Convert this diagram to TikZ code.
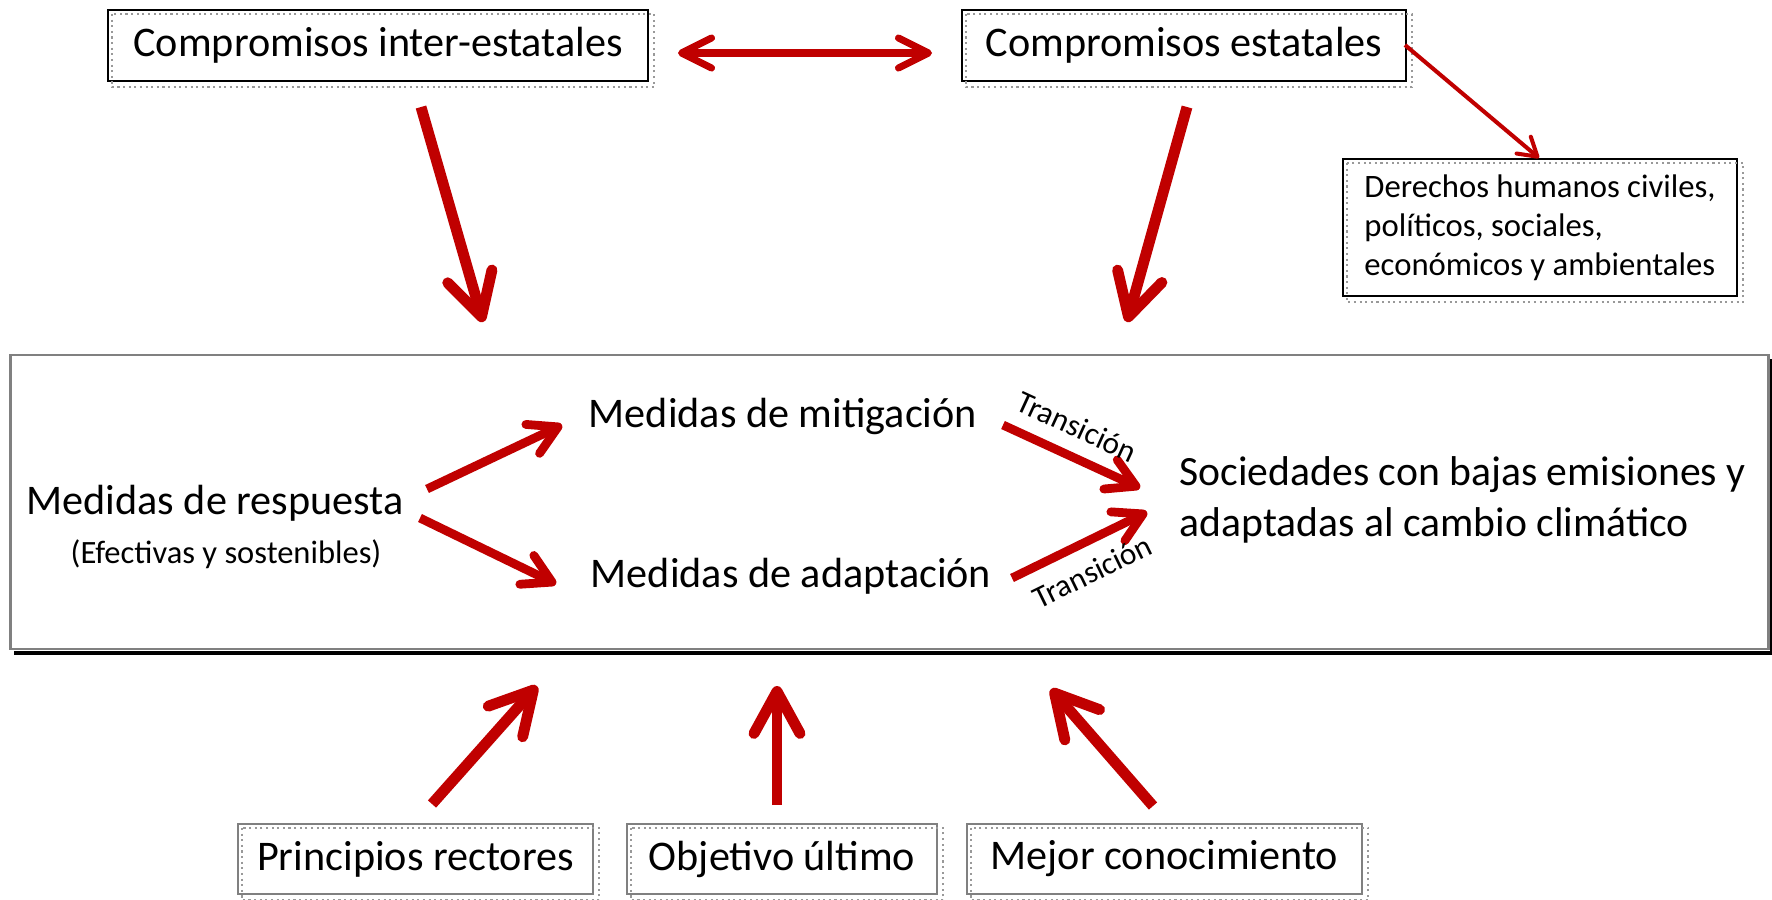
\documentclass[tikz,border=0pt]{standalone}
\usepackage{fontspec}
\setmainfont{Carlito}
\usetikzlibrary{arrows.meta}
\definecolor{arrowred}{RGB}{192,0,0}
\tikzset{
  box/.style = {draw, line width=0.6pt, inner sep=0, font=\fontsize{12}{14.4}\selectfont},
  graybox/.style = {box, draw=gray},
  dotframe/.style = {draw=gray!80, densely dotted, line width=0.6pt},
  bigarrow/.style = {arrowred, line width=3.1pt, -{Straight Barb[length=4.2mm, width=4.6mm, round]}},
  midarrow/.style = {arrowred, line width=2.5pt, -{Straight Barb[length=2.8mm, width=3.2mm, round]}},
  thinarrow/.style = {arrowred, line width=1.15pt, -{Straight Barb[length=1.8mm, width=2.2mm, round]}},
  label/.style = {font=\fontsize{12}{14.4}\selectfont, inner sep=0},
  translabel/.style = {text=black, sloped, inner sep=1pt, font=\fontsize{8.9}{11}\selectfont}
}

\begin{document}
\begin{tikzpicture}[x=0.01cm, y=-0.01cm]
    \useasboundingbox (0, 0) rectangle (1772, 899);

    % boxes
    \node [box, minimum width=5.4cm, minimum height=0.71cm] (inter) at (378, 45.5) {Compromisos inter-estatales};
    \node [box, minimum width=4.44cm, minimum height=0.71cm] (estatal) at (1184, 45.5) {Compromisos estatales};
    \node [box, minimum width=3.94cm, minimum height=1.37cm, align=left,
      font=\fontsize{9.3}{11.1}\selectfont] (derechos) at (1540, 227.5)
      {Derechos humanos civiles,\\políticos, sociales,\\económicos y ambientales};
    \node [graybox, minimum width=3.55cm, minimum height=0.7cm] (principios) at (415.5, 859) {Principios rectores};
    \node [graybox, minimum width=3.1cm, minimum height=0.7cm] (objetivo) at (782, 859) {Objetivo último};
    \node [graybox, minimum width=3.95cm, minimum height=0.7cm] (mejor) at (1164.5, 859) {Mejor conocimiento};

    \foreach \b in {inter, estatal, derechos, principios, objetivo, mejor}
      \draw [dotframe] ([shift={(5, 5)}]\b.north west) rectangle ([shift={(5, 5)}]\b.south east);

    % main frame with shadow
    \node [draw=gray, line width=0.6pt, minimum width=17.57cm, minimum height=2.94cm] (main) at (889.5, 502) {};
    \draw [line width=1.2pt] ([shift={(2.5, 5)}]main.north east) -- ([shift={(2.5, 2.5)}]main.south east)
      -- ([shift={(5, 2.5)}]main.south west);

    \node [label] (respuesta) at (215, 503) {Medidas de respuesta};
    \node [label, font=\fontsize{9.25}{11}\selectfont] (efectivas) at (226, 554) {(Efectivas y sostenibles)};
    \node [label] (mitigacion) at (783, 416) {Medidas de mitigación};
    \node [label] (adaptacion) at (791, 576) {Medidas de adaptación};
    \node [label, align=left, anchor=west, font=\fontsize{11.85}{14.4}\selectfont] (sociedades) at (1179, 500)
      {Sociedades con bajas emisiones y\\adaptadas al cambio climático};

    % arrow ends
    \coordinate (a1) at (678, 53);   \coordinate (a2) at (932, 53);
    \coordinate (b1) at (421, 107);  \coordinate (b2) at (483, 322);
    \coordinate (c1) at (1187, 107); \coordinate (c2) at (1127, 322);
    \coordinate (d1) at (1405, 45);  \coordinate (d2) at (1539, 158);
    \coordinate (e1) at (427, 489);  \coordinate (e2) at (562, 425);
    \coordinate (f1) at (420, 518);  \coordinate (f2) at (556, 584);
    \coordinate (g1) at (1003, 425); \coordinate (g2) at (1140, 488);
    \coordinate (h1) at (1012, 578); \coordinate (h2) at (1147, 512);
    \coordinate (p1) at (432, 804);  \coordinate (p2) at (537, 686);
    \coordinate (o1) at (777, 805);  \coordinate (o2) at (777, 686);
    \coordinate (m1) at (1153, 806); \coordinate (m2) at (1051, 689);

    \draw [arrowred, line width=2pt, {Straight Barb[length=3mm, width=3mm, round]}-{Straight Barb[length=3mm, width=3mm, round]}] (a1) -- (a2);
    \draw [bigarrow] (b1) -- (b2);
    \draw [bigarrow] (c1) -- (c2);
    \draw [thinarrow] (d1) -- (d2);
    \draw [midarrow] (e1) -- (e2);
    \draw [midarrow] (f1) -- (f2);
    \draw [midarrow] (g1) -- (g2) node [translabel, pos=0.45, above, yshift=3pt] {Transición};
    \draw [midarrow] (h1) -- (h2) node [translabel, pos=0.5, below, yshift=-3pt] {Transición};
    \draw [bigarrow] (p1) -- (p2);
    \draw [bigarrow] (o1) -- (o2);
    \draw [bigarrow] (m1) -- (m2);
  \end{tikzpicture}
\end{document}
